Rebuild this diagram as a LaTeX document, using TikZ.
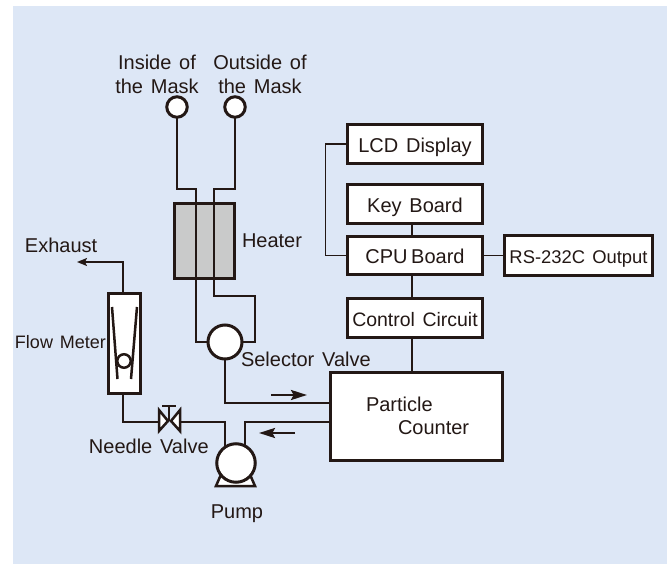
\documentclass[tikz,border=0pt]{standalone}
\usepackage{fontspec}
\setmainfont[WordSpace=1.4]{Liberation Sans}
\usepackage{tikz}
\usetikzlibrary{arrows.meta,calc}
\newcommand{\unitpx}{0.75pt}
\definecolor{panelblue}{HTML}{DDE7F6}
\definecolor{inkdark}{HTML}{231815}
\definecolor{heatergray}{HTML}{C9CACA}
\tikzstyle{block}=[draw=inkdark,fill=white,line width=3*\unitpx,inner sep=0pt,outer sep=0pt,text=inkdark,text height=12pt,text depth=0pt]
\tikzstyle{port}=[draw=inkdark,fill=white,circle,inner sep=0pt,outer sep=0pt,line width=3*\unitpx]
\tikzstyle{caption}=[inner sep=0pt,outer sep=0pt,text=inkdark]
\tikzstyle{pipe}=[draw=inkdark,line width=1.5*\unitpx]
\tikzstyle{part}=[draw=inkdark,line width=2.5*\unitpx]
\tikzstyle{flowtip}=[draw=inkdark,line width=2.5*\unitpx,-{Stealth[length=12pt,width=7.5pt,inset=2pt]}]
\tikzset{wh/.style 2 args={minimum width=#1*\unitpx,minimum height=#2*\unitpx}}
\begin{document}
\begin{tikzpicture}[x=\unitpx,y=-\unitpx,font=\fontsize{15pt}{17.6pt}\selectfont]
\useasboundingbox (0,0) rectangle (672,564);
\fill[panelblue] (13,6) rectangle (667,564);
\node[port,minimum size=20.5*\unitpx] (inside) at (177,107) {};
\node[port,minimum size=20.5*\unitpx] (outside) at (235,107) {};
\node[block,fill=heatergray,wh={60}{75}] (heater) at (204.5,241) {};
\node[port,minimum size=34*\unitpx] (selector) at (225,342) {};
\node[block,wh={32}{100}] (meter) at (124.5,343.5) {};
\node[block,wh={172}{88}] (counter) at (416.5,416) {};
\node[block,wh={135}{39}] (lcd) at (415,144) {LCD Display};
\node[block,wh={135}{39}] (key) at (415,204) {Key Board};
\node[block,wh={135}{38}] (cpu) at (415,255.5) {\spaceskip=0.18em CPU Board};
\node[block,wh={135}{39},font=\fontsize{14.6pt}{17pt}\selectfont] (control) at (415,318) {Control Circuit};
\node[block,wh={148}{40},font=\fontsize{13.8pt}{17pt}\selectfont] (rs) at (578.5,255.5) {RS-232C Output};
\coordinate (bendA) at (196,189);
\coordinate (bendB) at (255,296);
\coordinate (bendC) at (214,189);
\coordinate (feedA) at (225,403);
\coordinate (feedB) at (245,422);
\coordinate (feedC) at (225,422);
\coordinate (valve) at (169,422);
\coordinate (valveL) at (158,422);
\coordinate (valveR) at (181,422);
\coordinate (valveT) at (169,406);
\coordinate (meterB) at (123,422);
\coordinate (exhaustB) at (123,262);
\coordinate (exhaustE) at (77,262);
\coordinate (pumpC) at (236,463);
\coordinate (spine) at (412,0);
\draw[pipe] (inside.south) |- (bendA) -- (bendA |- selector.west) -- (selector.west);
\draw[pipe] (selector.east) -| (bendB) -| (bendC) -| (outside.south);
\draw[pipe] (selector.south) -- (feedA) -- (feedA -| counter.west);
\draw[pipe] (counter.west |- feedB) -- (feedB) -- (feedB |- pumpC);
\draw[pipe] (feedC |- pumpC) -- (feedC) -- (valveR);
\draw[pipe] (valveL) -- (meterB) -- (meterB |- meter.south);
\draw[pipe,-{Stealth[length=7.5pt,width=6pt,inset=1.5pt]}] (meterB |- meter.north) -- (exhaustB) -- (exhaustE);
\draw[pipe] (lcd.west) -- ++(-22,0) |- (cpu.west);
\draw[pipe] (key.south -| spine) -- (cpu.north -| spine);
\draw[pipe] (cpu.south -| spine) -- (control.north -| spine);
\draw[pipe] (control.south -| spine) -- (counter.north -| spine);
\draw[pipe] (cpu.east) -- (rs.west);
\draw[flowtip] (271,395) -- (307,395);
\draw[flowtip] (295,433) -- (259,433);
\draw[part,fill=white] (216,486) -- (255,486) -- (248,470) -- (223,470) -- cycle;
\node[port,minimum size=38.5*\unitpx] (pump) at (pumpC) {};
\draw[part] (112,307) -- (117.5,379);
\draw[part] (137,307) -- (131,379);
\node[port,minimum size=13.5*\unitpx,line width=2.5*\unitpx] (ball) at (124,361) {};
\draw[part,fill=white] (159,410) -- (159,431) -- (168,421) -- cycle;
\draw[part,fill=white] (180,410) -- (180,431) -- (171,421) -- cycle;
\draw[part] (valve) ++(0,-1) -- (valveT);
\draw[part] ($(valveT)+(-7,0)$) -- ($(valveT)+(7,0)$);
\node[caption,align=center,anchor=base] (insideL) at (157,93) {Inside of\\the Mask};
\node[caption,align=center,anchor=base] (outsideL) at (260,93) {Outside of\\the Mask};
\node[caption,anchor=base west] (heaterL) at (242,247) {Heater};
\node[caption,anchor=base west] (exhaustL) at (25,252) {Exhaust};
\node[caption,anchor=base west,font=\fontsize{13.5pt}{17pt}\selectfont] (meterL) at (15,348) {Flow Meter};
\node[caption,anchor=base west] (selectorL) at (241,366) {Selector Valve};
\node[caption,anchor=base west] (needleL) at (89,453) {Needle Valve};
\node[caption,anchor=base] (pumpL) at (237,518) {Pump};
\node[caption,anchor=base west] (particleL) at (366,411) {Particle};
\node[caption,anchor=base west] (counterL) at (398,434) {Counter};
\end{tikzpicture}
\end{document}
